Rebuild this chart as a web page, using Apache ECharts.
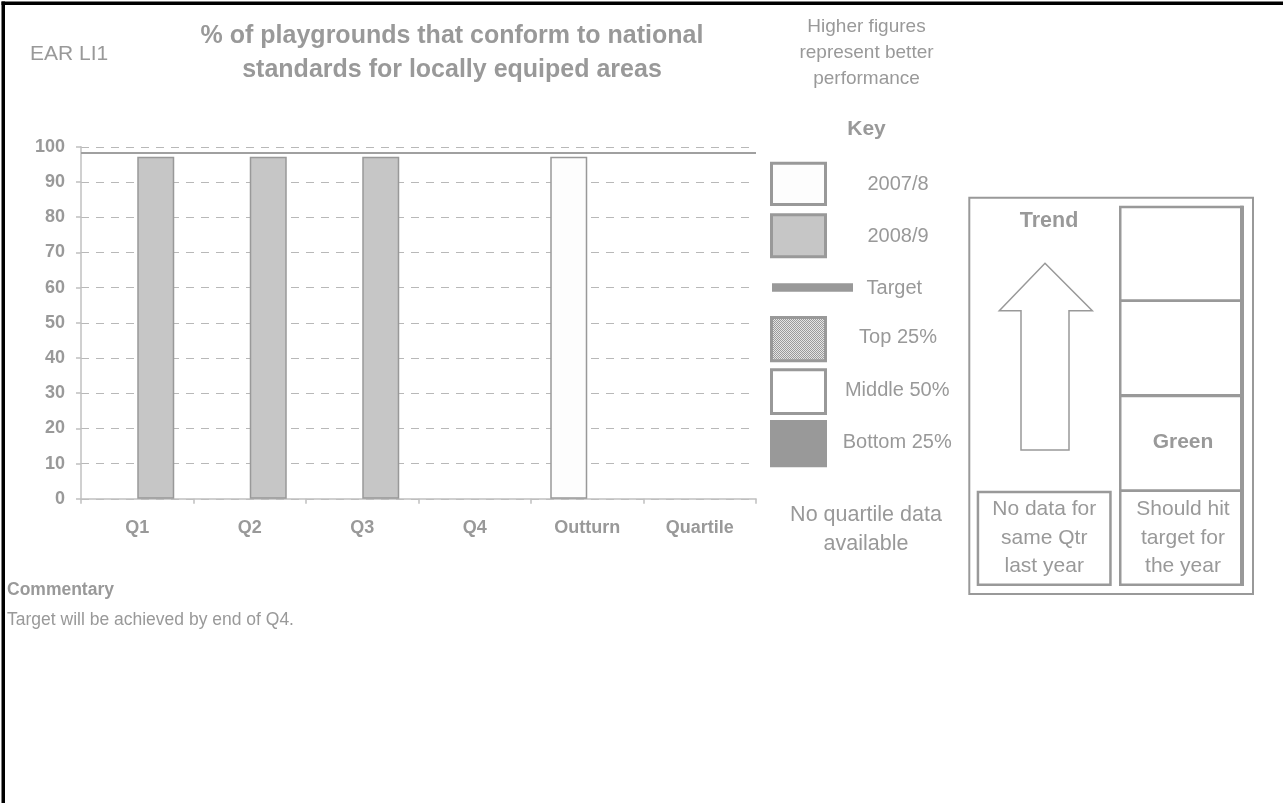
<!DOCTYPE html>
<html>
<head>
<meta charset="utf-8">
<script src="https://cdn.jsdelivr.net/npm/echarts@6/dist/echarts.min.js"></script>
<style>
html,body{margin:0;padding:0;background:#fff;}
#chart{width:1283px;height:803px;}
</style>
</head>
<body>
<div id="chart"></div>
<script>
// ---- data ----
const categories = ['Q1', 'Q2', 'Q3', 'Q4', 'Outturn', 'Quartile'];
const values2007_8 = [null, null, null, null, 97.2, null];
const values2008_9 = [97.2, 97.2, 97.2, null, null, null];
const targetValue = 98.4;
const yAxisMin = 0, yAxisMax = 100, yAxisStep = 10;
const seriesNames = ['2007/8', '2008/9'];
const keyLabels = ['2007/8', '2008/9', 'Target', 'Top 25%', 'Middle 50%', 'Bottom 25%'];
const indicatorCode = 'EAR LI1';
const titleLines = ['% of playgrounds that conform to national', 'standards for locally equiped areas'];
const polarityLines = ['Higher figures', 'represent better', 'performance'];
const keyTitle = 'Key';
const quartileNote = ['No quartile data', 'available'];
const trendTitle = 'Trend';
const trendNote = ['No data for', 'same Qtr', 'last year'];
const ragStatus = 'Green';
const ragNote = ['Should hit', 'target for', 'the year'];
const commentaryTitle = 'Commentary';
const commentaryText = 'Target will be achieved by end of Q4.';

// ---- styling ----
const FONT = "'Liberation Sans', Arial, sans-serif";
const GREY = '#999999';
const AXIS = '#c0c0c0';

// pattern for "Top 25%"
const pc = document.createElement('canvas');
pc.width = 2; pc.height = 2;
const pctx = pc.getContext('2d');
pctx.fillStyle = '#e4e4e4'; pctx.fillRect(0, 0, 2, 2);
pctx.fillStyle = '#9a9a9a'; pctx.fillRect(0, 0, 1, 1); pctx.fillRect(1, 1, 1, 1);

function txt(x, y, text, size, bold, align) {
  return {
    type: 'text', x: x, y: y, silent: true,
    style: {
      text: text, fill: GREY, font: (bold ? 'bold ' : '') + size + 'px ' + FONT,
      textAlign: align || 'center', textVerticalAlign: 'middle'
    }
  };
}
function box(x1, y1, x2, y2, fill, lw, stroke) {
  return {
    type: 'rect', silent: true,
    shape: { x: x1 + lw / 2, y: y1 + lw / 2, width: x2 - x1 - lw, height: y2 - y1 - lw },
    style: { fill: fill, stroke: stroke === undefined ? GREY : stroke, lineWidth: lw }
  };
}
function hline(x1, x2, y, lw) {
  return { type: 'line', silent: true, shape: { x1: x1, y1: y, x2: x2, y2: y }, style: { stroke: GREY, lineWidth: lw } };
}
function vline(x, y1, y2, lw) {
  return { type: 'line', silent: true, shape: { x1: x, y1: y1, x2: x, y2: y2 }, style: { stroke: GREY, lineWidth: lw } };
}

const graphics = [];
// frame (left + top)
graphics.push({ type: 'rect', silent: true, shape: { x: 1.5, y: 1.5, width: 3.5, height: 802 }, style: { fill: '#000' } });
graphics.push({ type: 'rect', silent: true, shape: { x: 1.5, y: 1.5, width: 1282, height: 3.5 }, style: { fill: '#000' } });

// header texts
graphics.push(txt(30, 54, indicatorCode, 21, false, 'left'));
titleLines.forEach((t, i) => graphics.push(txt(452, 36 + i * 34, t, 25, true)));
polarityLines.forEach((t, i) => graphics.push(txt(866.5, 27.2 + i * 25.7, t, 19, false)));
graphics.push(txt(866.5, 129.5, keyTitle, 21, true));

// key swatches
graphics.push(box(770, 161.7, 827, 206, '#fdfdfd', 3));
graphics.push(box(770, 213.3, 827, 258.3, '#c6c6c6', 3));
graphics.push({ type: 'rect', silent: true, shape: { x: 772, y: 283.3, width: 81, height: 8.4 }, style: { fill: GREY } });
graphics.push(box(770, 316, 827, 362.3, { type: 'pattern', image: pc, repeat: 'repeat' }, 3));
graphics.push(box(770, 368.3, 827, 415, '#ffffff', 3));
graphics.push(box(770, 420, 827, 467.3, GREY, 0, 'none'));
const keyY = [184.2, 236.8, 288, 337.5, 390.8, 442.5];
const keyX = [898, 898, 894.3, 898, 897.2, 897.2];
keyLabels.forEach((t, i) => graphics.push(txt(keyX[i], keyY[i], t, 20, false)));
quartileNote.forEach((t, i) => graphics.push(txt(866, 515 + i * 28.7, t, 21.5, false)));

// trend panel
graphics.push(box(968.3, 196.7, 1254, 595, 'none', 2));
graphics.push(box(1119, 205.7, 1243.3, 586, 'none', 2.5));
graphics.push(vline(1242, 205.7, 586, 4));
graphics.push(hline(1119, 1243, 300.7, 2.7));
graphics.push(hline(1119, 1243, 395.7, 3.3));
graphics.push(hline(1119, 1243, 490.7, 2.7));
graphics.push(box(976.7, 490.7, 1111.7, 586, 'none', 2.5));
graphics.push(txt(1049, 220.8, trendTitle, 21.5, true));
graphics.push({
  type: 'polygon', silent: true,
  shape: { points: [[1045, 263.3], [1092.3, 310.7], [1069, 310.7], [1069, 450], [1021, 450], [1021, 310.7], [999.3, 310.7]] },
  style: { fill: '#fff', stroke: GREY, lineWidth: 1.5 }
});
graphics.push(txt(1183, 442.5, ragStatus, 21, true));
trendNote.forEach((t, i) => graphics.push(txt(1044.2, 509.2 + i * 28.7, t, 21, false)));
ragNote.forEach((t, i) => graphics.push(txt(1183, 509.2 + i * 28.7, t, 21, false)));

// commentary
graphics.push(txt(7, 590, commentaryTitle, 17.5, true, 'left'));
graphics.push(txt(7, 619.7, commentaryText, 17.5, false, 'left'));

const chart = echarts.init(document.getElementById('chart'), null, { renderer: 'canvas' });
chart.setOption({
  animation: false,
  backgroundColor: '#ffffff',
  grid: { left: 81, top: 146.8, width: 675, height: 352, containLabel: false },
  xAxis: {
    type: 'category', data: categories, boundaryGap: true,
    axisLine: { show: true, lineStyle: { color: AXIS, width: 1.5 } },
    axisTick: { show: true, length: 5, alignWithLabel: false, lineStyle: { color: AXIS, width: 1.5 } },
    axisLabel: { color: GREY, fontWeight: 'bold', fontSize: 18, fontFamily: FONT, margin: 20 },
    splitLine: { show: false }
  },
  yAxis: {
    type: 'value', min: yAxisMin, max: yAxisMax, interval: yAxisStep,
    axisLine: { show: true, lineStyle: { color: AXIS, width: 1.5 } },
    axisTick: { show: true, length: 5, lineStyle: { color: AXIS, width: 1.5 } },
    axisLabel: { color: GREY, fontWeight: 'bold', fontSize: 18, fontFamily: FONT, margin: 16 },
    splitLine: { show: true, lineStyle: { color: '#b8b8b8', width: 1.2, type: [8, 7] } }
  },
  series: [
    {
      name: seriesNames[0], type: 'bar', data: values2007_8, barWidth: 37, barGap: '0%',
      itemStyle: { color: '#fdfdfd', borderColor: GREY, borderWidth: 1.5 },
      silent: true,
      markLine: {
        silent: true, symbol: 'none', label: { show: false },
        lineStyle: { color: '#a0a0a0', width: 2, type: 'solid' },
        data: [{ yAxis: targetValue }]
      }
    },
    {
      name: seriesNames[1], type: 'bar', data: values2008_9, barWidth: 37, barGap: '0%',
      itemStyle: { color: '#c6c6c6', borderColor: GREY, borderWidth: 1.5 },
      silent: true
    }
  ],
  graphic: { elements: graphics }
});
</script>
</body>
</html>
